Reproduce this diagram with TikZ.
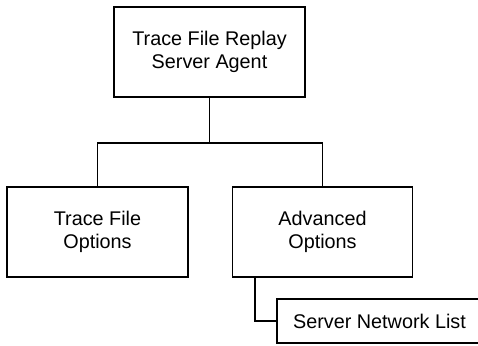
\documentclass[tikz,border=0pt]{standalone}
\usepackage{fontspec}
\setmainfont{Liberation Sans}
\begin{document}
\begin{tikzpicture}[x=1pt,y=-1pt,
  box/.style={draw, line width=1.6pt, align=center, inner sep=0pt,
    font=\fontsize{19.8}{22.5}\selectfont},
  link/.style={line width=1.6pt}]
\useasboundingbox (0,0) rectangle (478,345);
\clip (0,0) rectangle (478,345);
\node[box, minimum width=191pt, minimum height=90pt] (top) at (209.5,52) {Trace File Replay\\Server Agent};
\node[box, minimum width=181pt, minimum height=90pt] (left) at (97.5,232) {Trace File\\Options};
\node[box, minimum width=180pt, minimum height=90pt] (right) at (322.5,232) {Advanced\\Options};
\node[box, minimum width=205pt, minimum height=44pt] (list) at (379.5,321) {Server Network List};
\coordinate (bus) at (210,143);
\coordinate (drop) at (255,277);
\draw[link] (top.south) -- (top.south |- bus);
\draw[link] (left.north) -- (left.north |- bus) -- (right.north |- bus) -- (right.north);
\draw[link] (drop) |- (list.west);
\end{tikzpicture}
\end{document}
